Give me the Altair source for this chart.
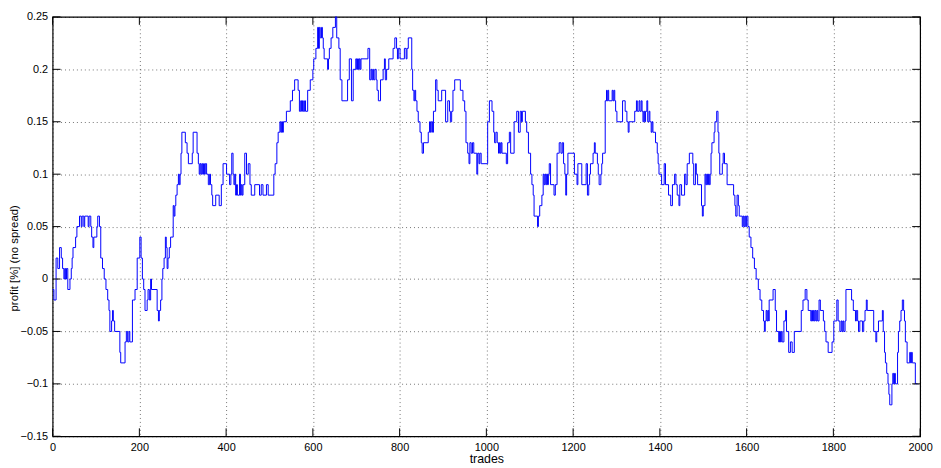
import altair as alt
import pandas as pd

# trade index of each step change, and profit level (in hundredths of a percent)
trades = [0,3,8,12,16,20,23,26,28,30,32,35,40,43,45,47,53,56,62,66,68,72,74,82,84,88,90,93,95,102,104,108,111,115,119,123,127,130,132,136,138,140,143,155,157,167,170,173,176,178,184,190,195,201,204,207,210,213,218,220,223,226,228,241,244,246,249,252,254,257,260,262,264,266,269,272,278,280,282,284,287,290,292,294,296,298,306,310,313,322,324,333,336,338,340,342,344,346,348,350,352,355,359,362,364,367,369,376,384,389,393,401,408,411,413,
416,418,420,422,424,426,431,433,435,437,439,443,447,451,455,458,466,477,481,485,493,497,510,513,517,520,524,526,528,530,532,539,548,553,558,566,569,572,574,576,578,581,583,588,594,600,602,607,611,613,615,617,620,622,624,626,634,636,638,642,646,652,655,660,663,667,680,684,689,693,699,701,703,705,707,709,711,727,731,734,736,738,740,743,746,748,751,756,762,765,767,770,775,785,789,793,795,797,801,811,815,817,820,828,830,833,835,837,840,843,847,850,852,855,866,869,871,873,876,878,883,886,889,897,906,911,915,917,920,923,927,940,946,950,953,957,960,962,965,968,971,978,980,983,985,988,1003,1007,1013,1017,1019,1022,1025,1028,1030,1032,1034,1036,1046,1049,1053,1056,1064,1070,1074,1078,1081,1083,1090,1093,1097,1102,1105,1108,1110,1118,1120,1123,1128,1131,1133,1135,1137,1139,1141,1143,1145,1148,1156,1159,1163,1168,1172,1175,1178,1181,1183,1185,1188,1203,1209,1211,1220,1230,1233,1236,1238,1240,1246,1249,1251,1256,1258,1260,1264,1266,1268,1274,1277,1278,1280,1282,1290,1292,1294,1296,1298,1301,1314,1320,1324,1327,1329,1342,1346,1348,1352,1354,1357,1359,1361,1363,1365,1367,1370,1372,1375,1377,1380,1382,1384,1390,1394,1396,1398,1404,1410,1413,1420,1425,1429,1434,1437,1440,1444,1446,1450,1457,1460,1463,1468,1476,1478,1482,1484,1487,1496,1498,1500,1504,1506,1508,1510,1512,1514,1516,1518,1520,1525,1527,1531,1534,1536,1538,1544,1546,1549,1555,1570,1573,1575,1578,1581,1583,1590,1592,1594,1596,1598,1600,1603,1606,1610,1614,1618,1622,1627,1631,1635,1639,1641,1643,1645,1647,1649,1651,1652,1661,1666,1669,1674,1676,1678,1680,1682,1686,1690,1692,1697,1701,1705,1710,1726,1730,1735,1739,1742,1748,1750,1752,1754,1756,1758,1760,1762,1764,1767,1770,1777,1780,1783,1788,1797,1801,1808,1811,1815,1818,1820,1822,1824,1827,1829,1842,1846,1851,1853,1856,1858,1861,1867,1870,1873,1876,1878,1893,1898,1900,1904,1913,1915,1918,1920,1923,1926,1928,1930,1935,1937,1939,1941,1943,1948,1950,1953,1956,1959,1962,1964,1966,1970,1976,1978,1980,1982,1989,1994]

profit_hundredths = [-1,-2,2,1,3,2,1,0,1,0,1,-1,0,1,2,3,4,5,6,5,6,5,6,5,6,5,4,3,4,5,6,5,2,1,0,-1,-2,-3,-5,-4,-3,-4,-5,-7,-8,-6,-5,-6,-5,-6,-2,-1,2,4,2,0,-1,-3,-2,-1,-2,0,-1,-3,-4,-3,-2,0,1,2,4,3,1,2,3,4,7,6,7,8,9,10,9,10,12,14,13,12,11,12,14,12,11,10,11,10,11,10,11,10,11,10,9,10,9,8,7,8,7,9,11,10,9,10,12,
10,9,10,8,9,8,10,8,9,8,9,12,10,11,9,8,9,8,9,8,9,8,10,11,13,14,15,14,15,14,15,16,17,18,19,18,16,17,16,17,16,17,16,18,19,20,21,22,24,22,24,23,24,23,22,21,20,21,22,23,24,25,23,22,19,17,19,21,17,20,21,20,21,20,21,20,21,22,19,20,19,20,19,20,19,18,17,19,20,21,19,20,21,22,23,22,21,22,21,22,21,22,23,20,18,17,18,17,16,15,14,13,12,13,14,15,14,15,14,16,19,18,17,18,15,17,16,15,16,18,19,18,17,16,13,12,11,13,12,13,12,10,12,11,12,11,15,17,16,14,13,14,13,12,13,12,13,12,11,13,14,12,15,16,14,16,15,16,15,14,12,10,9,8,6,5,6,7,8,10,9,10,9,10,9,10,11,9,8,9,12,13,12,13,11,10,8,10,12,10,9,11,9,11,8,9,10,11,12,13,12,11,10,9,10,11,12,17,18,17,18,17,18,17,18,17,16,15,17,16,15,14,15,16,17,16,17,16,17,16,15,16,15,16,17,15,16,15,14,15,14,13,12,11,10,9,11,9,8,7,9,10,9,8,7,9,8,10,9,11,12,11,9,11,10,9,7,6,7,10,9,10,9,10,9,10,12,13,14,15,16,14,12,10,11,12,11,9,8,7,6,8,7,6,5,6,5,6,5,6,5,4,3,2,1,0,-1,-2,-3,-4,-5,-4,-3,-4,-3,-4,-2,-1,-3,-5,-6,-5,-6,-5,-6,-4,-3,-5,-7,-6,-7,-5,-3,-2,-1,-2,-3,-4,-3,-4,-3,-4,-3,-4,-3,-4,-2,-3,-4,-5,-6,-7,-6,-4,-2,-4,-5,-4,-5,-4,-5,-4,-1,-2,-3,-4,-3,-4,-5,-4,-5,-4,-3,-2,-3,-5,-6,-5,-4,-3,-5,-7,-8,-9,-10,-11,-12,-10,-9,-10,-9,-10,-7,-5,-4,-3,-2,-3,-4,-6,-8,-7,-8,-7,-8,-10,-10]

profit = [p / 100 for p in profit_hundredths]

x_ticks = [0, 200, 400, 600, 800, 1000, 1200, 1400, 1600, 1800, 2000]
y_ticks = [-0.15, -0.1, -0.05, 0, 0.05, 0.1, 0.15, 0.2, 0.25]

PAD_L, PAD_T, PAD_R, PAD_B = 45, 7, 13, 30
W, H = 875, 423
TL = 8  # inward tick length
FONT = "Liberation Sans"

df = pd.DataFrame({"trades": trades, "profit": profit})
xt = pd.DataFrame({"trades": x_ticks})
yt = pd.DataFrame({"profit": y_ticks})

xs = alt.Scale(domain=[0, 2000], nice=False, zero=False)
ys = alt.Scale(domain=[-0.15, 0.25], nice=False, zero=False)

grid_common = dict(
    grid=True, gridDash=[1, 3], gridColor="#000000", gridOpacity=0.55, gridWidth=1,
    ticks=False, domain=False, labelFont=FONT, labelFontSize=11, labelColor="#000000",
    labelFlush=False, titleFont=FONT, titleFontWeight="normal", titleColor="#000000",
)

line = alt.Chart(df).mark_line(interpolate="step-after", color="#0000ff", strokeWidth=1).encode(
    x=alt.X("trades:Q", scale=xs,
            axis=alt.Axis(values=x_ticks, format="d", title="trades", labelPadding=5,
                          titlePadding=0, titleFontSize=12.5, **grid_common)),
    y=alt.Y("profit:Q", scale=ys,
            axis=alt.Axis(values=y_ticks, format="~g", title="profit [%] (no spread)",
                          labelPadding=5, titleFontSize=11.5, titleAngle=270,
                          titleAlign="center", titleBaseline="middle",
                          titleX=15 - (8 + PAD_L), titleY=258 - (8 + PAD_T),
                          **grid_common)),
)

bottom = alt.Chart(xt).mark_rule(color="black", strokeWidth=1).encode(
    x=alt.X("trades:Q"), y=alt.value(H), y2=alt.value(H - TL))
top = alt.Chart(xt).mark_rule(color="black", strokeWidth=1).encode(
    x=alt.X("trades:Q"), y=alt.value(0), y2=alt.value(TL))
left = alt.Chart(yt).mark_rule(color="black", strokeWidth=1).encode(
    y=alt.Y("profit:Q"), x=alt.value(0), x2=alt.value(TL))
right = alt.Chart(yt).mark_rule(color="black", strokeWidth=1).encode(
    y=alt.Y("profit:Q"), x=alt.value(W), x2=alt.value(W - TL))

chart = alt.layer(line, bottom, top, left, right).properties(
    width=W, height=H,
    autosize=alt.AutoSizeParams(type="none"),
    padding={"left": PAD_L, "top": PAD_T, "right": PAD_R, "bottom": PAD_B},
    background="white",
).configure_view(stroke="black", strokeWidth=1.2)

chart.save("out.html", embed_options={"renderer": "svg", "actions": False})
